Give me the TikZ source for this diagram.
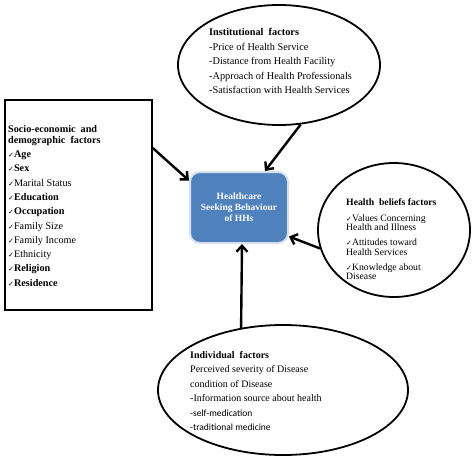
\documentclass[tikz,border=0pt]{standalone}
\usepackage{fontspec}
\setmainfont{Liberation Serif}
\newfontfamily\carl{Carlito}
\newfontfamily\dvs{DejaVu Sans}
\usetikzlibrary{shapes.geometric,arrows.meta}
\newcommand{\ck}{{\dvs\fontsize{7}{7}\selectfont ✓}}
\definecolor{hcblue}{RGB}{79,129,189}
\definecolor{hcedge}{RGB}{214,225,240}
\begin{document}
\begin{tikzpicture}[x=1pt,y=-1pt,
  oval/.style={ellipse,draw,line width=1.8pt,inner sep=0pt},
  txt/.style={anchor=north west,inner sep=0pt,align=left,font=\fontsize{10.3}{14.6}\selectfont},
  arr/.style={line width=2.4pt,-{Straight Barb[length=6pt,width=11pt]}}]
\useasboundingbox[fill=white] (0,0) rectangle (474,460);
\node[oval,minimum width=202pt,minimum height=120pt] (inst) at (279,65) {};
\node[draw,line width=1.5pt,minimum width=147pt,minimum height=210pt,inner sep=0pt] (sed) at (78.5,205) {};
\node[rounded corners=10pt,fill=hcblue,draw=hcedge,line width=2pt,minimum width=98pt,minimum height=71pt,text=white,font=\bfseries\fontsize{9.5}{11}\selectfont,align=center] (hc) at (239,207.5) {Healthcare\\Seeking Behaviour\\of HHs};
\node[oval,minimum width=152pt,minimum height=134pt] (hb) at (394,230) {};
\node[oval,minimum width=250pt,minimum height=130pt] (ind) at (283,390) {};

\node[txt] (instT) at (209,28) {\textbf{Institutional\ \ factors}\\-Price\ of Health Service\\-Distance from\ Health Facility\\-Approach of Health Professionals\\-Satisfaction with Health Services};
\node[txt,font=\fontsize{10.2}{14.3}\selectfont] (sedT) at (8,125) {\textbf{Socio-economic\ \ and}\\[-3.3pt]\textbf{demographic\ \ factors}\\\ck\textbf{Age}\\\ck\textbf{Sex}\\\ck Marital Status\\\ck\textbf{Education}\\\ck\textbf{Occupation}\\\ck Family\ Size\\\ck Family\ Income\\\ck Ethnicity\\\ck\textbf{Religion}\\\ck\textbf{Residence}};
\node[txt,font=\fontsize{9.7}{9.5}\selectfont] (hbT) at (346,198) {\textbf{Health\ \ beliefs factors}\\[6.5pt]\ck Values\ Concerning\\Health and Illness\\[5.5pt]\ck Attitudes toward\\Health Services\\[5.5pt]\ck Knowledge about\\Disease};
\node[txt,font=\fontsize{10}{14.5}\selectfont] (indT) at (190,351) {\textbf{Individual\ \ factors}\\Perceived severity of Disease\\condition of Disease\\-Information\ source about health\\{\carl\fontsize{9.5}{14.5}\selectfont -self-medication}\\{\carl\fontsize{9.5}{14.5}\selectfont -traditional medicine}};

\draw[arr] (inst.-70) -- ([xshift=26pt]hc.north);
\draw[arr] ([yshift=57pt]sed.east) -- ([yshift=27pt]hc.west);
\draw[arr] (hb.194) -- ([yshift=-29pt]hc.east);
\draw[arr] (ind.124) -- ([xshift=3pt]hc.south);
\end{tikzpicture}
\end{document}
